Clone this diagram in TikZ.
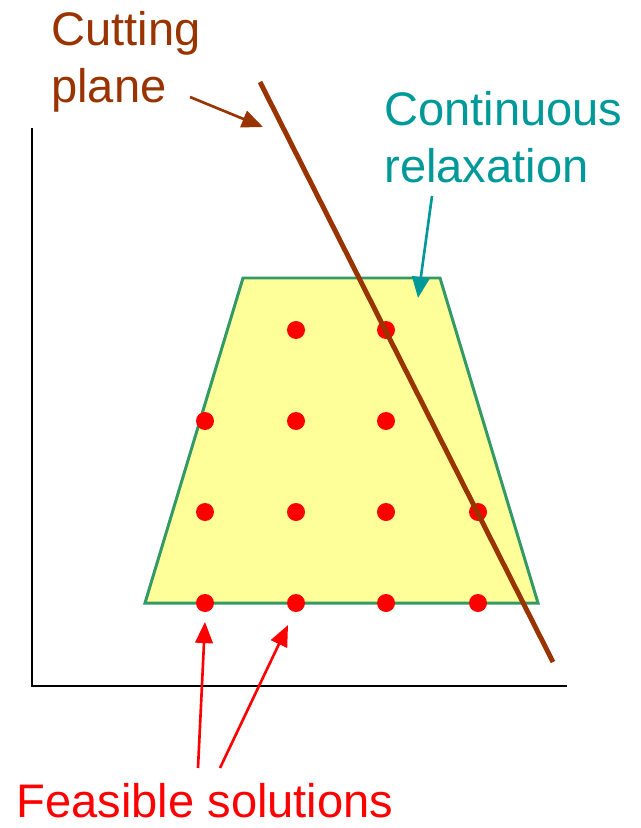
\documentclass[tikz,border=0pt]{standalone}
\usepackage{fontspec}
\setmainfont{Liberation Sans}
\definecolor{cpbrown}{RGB}{153,51,0}
\definecolor{relteal}{RGB}{0,153,153}
\definecolor{relgreen}{RGB}{51,153,102}
\definecolor{relyellow}{RGB}{255,255,153}
\definecolor{feasred}{RGB}{255,0,0}
\usetikzlibrary{arrows.meta,positioning,calc}

\begin{document}
\begin{tikzpicture}[
  x=0.02cm, y=-0.02cm,
  lbl/.style={font=\fontsize{26.8}{32.5}\selectfont, inner sep=0pt},
  axis/.style={line width=1pt, draw=black},
  region/.style={draw=relgreen, line width=1.7pt, fill=relyellow},
  cutline/.style={draw=cpbrown, line width=2.8pt},
  pt/.style={circle, fill=feasred, inner sep=0pt, minimum size=0.36cm},
  pointer/.style={-{Triangle[length=12pt,width=10pt]}, line width=1.5pt}
]
\useasboundingbox (0,0) rectangle (641,828);

% axes
\coordinate (o) at (32,686);
\draw[axis] (32,128) -- (o) -- (567,686);

% continuous relaxation
\draw[region] (243,278) -- (440,278) -- (538,603) -- (145,603) -- cycle;

% integer points
\foreach \c/\r in {296/330,386/330,
                   205/421,296/421,386/421,
                   205/512,296/512,386/512,478/512,
                   205/603,296/603,386/603,478/603}
  \node[pt] (p-\c-\r) at (\c,\r) {};

% cutting plane
\coordinate (cp1) at (260,82);
\coordinate (cp2) at (553,662);
\draw[cutline] (cp1) -- (cp2);

% labels
\node[lbl, align=left, text=cpbrown, anchor=west] (cutlbl) at (51,62) {Cutting\\plane};
\node[lbl, align=left, text=relteal, anchor=west] (rellbl) at (384,137) {Continuous\\relaxation};
\node[lbl, text=feasred, anchor=base] (feaslbl) at (205,817) {Feasible solutions};

\coordinate (cuttail) at (190,97);
\coordinate (cuthead) at (263,127);
\draw[pointer, draw=cpbrown, fill=cpbrown] (cuttail) -- (cuthead);

\coordinate (reltail) at (432,196);
\coordinate (relhead) at (418,298);
\draw[pointer, draw=relteal, fill=relteal] (reltail) -- (relhead);

\coordinate (feastail1) at (198,768);
\coordinate (feastail2) at (220,768);
\draw[pointer, draw=feasred, fill=feasred] (feastail1) -- ($(p-205-603)+(0,19)$);
\draw[pointer, draw=feasred, fill=feasred] (feastail2) -- ($(p-296-603)+(-8,22)$);
\end{tikzpicture}
\end{document}
